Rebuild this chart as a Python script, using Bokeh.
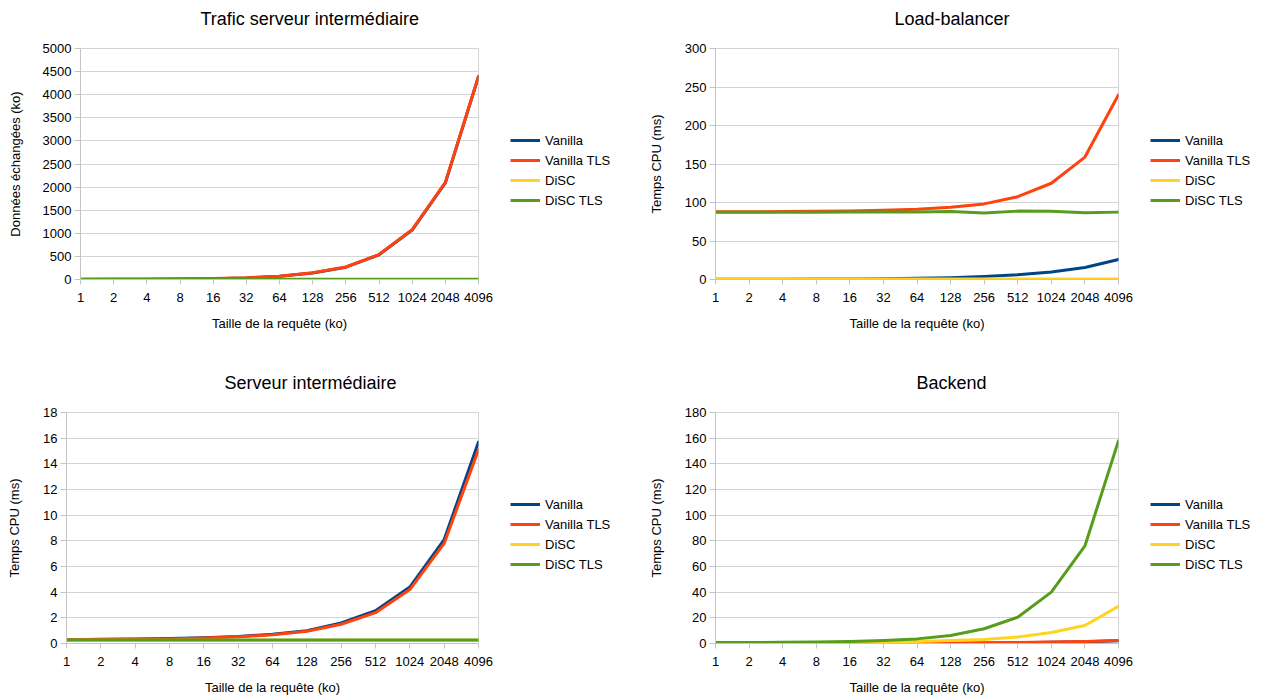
from bokeh.plotting import figure
from bokeh.layouts import column, row
from bokeh.models import Range1d, FixedTicker, Legend, LegendItem, Title
from bokeh.embed import file_html
from bokeh.resources import INLINE

# ---- data ----
sizes = ["1", "2", "4", "8", "16", "32", "64", "128", "256", "512", "1024", "2048", "4096"]
series = ["Vanilla", "Vanilla TLS", "DiSC", "DiSC TLS"]
colors = ["#004586", "#ff420e", "#ffd320", "#579d1c"]

# Trafic serveur intermédiaire (ko)
traffic_vanilla = [2, 3, 5, 9, 18, 35, 70, 142, 266, 535, 1070, 2090, 4390]
traffic_vanilla_tls = [3, 4, 6, 10, 19, 37, 72, 145, 270, 540, 1080, 2100, 4400]
traffic_disc = [1, 1, 1, 1, 1, 1, 1, 1, 1, 1, 1, 1, 1]
traffic_disc_tls = [4, 4, 4, 4, 4, 4, 4, 4, 4, 4, 4, 4, 4]
traffic_yticks = [0, 500, 1000, 1500, 2000, 2500, 3000, 3500, 4000, 4500, 5000]

# Load-balancer (ms)
lb_vanilla = [0.3, 0.3, 0.4, 0.5, 0.7, 1.0, 1.5, 2.2, 3.8, 6.3, 9.8, 15.5, 26]
lb_vanilla_tls = [88, 88, 88.2, 88.5, 89, 89.8, 91.2, 93.8, 98.2, 107.5, 125, 159, 240]
lb_disc = [0.5, 0.5, 0.5, 0.5, 0.5, 0.5, 0.5, 0.5, 0.5, 0.5, 0.5, 0.5, 0.5]
lb_disc_tls = [87.5, 87.5, 87.5, 87.5, 87.6, 87.8, 87.8, 88.4, 86.5, 88.8, 88.6, 86.6, 87.5]
lb_yticks = [0, 50, 100, 150, 200, 250, 300]

# Serveur intermédiaire (ms)
srv_vanilla = [0.30, 0.33, 0.35, 0.38, 0.45, 0.55, 0.72, 1.0, 1.6, 2.55, 4.4, 8.1, 15.7]
srv_vanilla_tls = [0.29, 0.32, 0.34, 0.36, 0.43, 0.52, 0.68, 0.95, 1.5, 2.4, 4.2, 7.8, 15.1]
srv_disc = [0.26, 0.26, 0.26, 0.26, 0.26, 0.26, 0.26, 0.26, 0.26, 0.26, 0.26, 0.26, 0.26]
srv_disc_tls = [0.27, 0.27, 0.27, 0.27, 0.27, 0.27, 0.27, 0.27, 0.27, 0.27, 0.27, 0.27, 0.27]
srv_yticks = [0, 2, 4, 6, 8, 10, 12, 14, 16, 18]

# Backend (ms)
be_vanilla = [0.05, 0.05, 0.05, 0.05, 0.1, 0.1, 0.15, 0.2, 0.35, 0.55, 0.9, 1.4, 2.1]
be_vanilla_tls = [0.1, 0.1, 0.1, 0.1, 0.15, 0.2, 0.25, 0.3, 0.45, 0.7, 1.1, 1.6, 2.4]
be_disc = [0.3, 0.3, 0.35, 0.4, 0.6, 1.0, 1.6, 2.3, 3.1, 5.0, 8.5, 14, 29]
be_disc_tls = [0.8, 0.8, 0.9, 1.2, 1.5, 2.3, 3.6, 6.2, 11.5, 20.5, 40, 76, 158]
be_yticks = [0, 20, 40, 60, 80, 100, 120, 140, 160, 180]

XTITLE = "Taille de la requête (ko)"
FONT = "Liberation Sans"
GRID = "#d4d4d4"
AXIS = "#c4c4c4"


def make_chart(title, ylabel, yticks, data, width, height, left_b, right_b, top_b, bottom_b,
               title_offset, ylab_standoff, xlab_standoff):
    ymax = yticks[-1]
    xs = list(range(len(sizes)))
    xmax = xs[-1]
    p = figure(width=width, height=height,
               min_border_left=left_b, min_border_right=right_b,
               min_border_top=top_b, min_border_bottom=bottom_b,
               x_range=Range1d(0, xmax), y_range=Range1d(0, ymax),
               output_backend="svg", toolbar_location=None, tools="")
    p.background_fill_color = "white"
    p.border_fill_color = "white"
    p.outline_line_color = GRID
    p.xgrid.grid_line_color = None
    p.ygrid.grid_line_color = GRID
    p.ygrid.grid_line_width = 1

    for col, vals in zip(colors, data):
        p.line(xs, vals, line_color=col, line_width=3, line_join="round", line_cap="round")

    # x axis
    xa = p.xaxis[0]
    xa.ticker = FixedTicker(ticks=xs)
    xa.major_label_overrides = {i: s for i, s in zip(xs, sizes)}
    xa.minor_tick_line_color = None
    xa.major_tick_in = 0
    xa.major_tick_out = 5
    xa.major_label_standoff = 8
    xa.axis_line_color = AXIS
    xa.major_tick_line_color = AXIS
    xa.major_label_text_font = FONT
    xa.major_label_text_font_size = "13px"
    xa.major_label_text_color = "#000000"
    xa.axis_label = XTITLE
    xa.axis_label_text_font = FONT
    xa.axis_label_text_font_size = "13px"
    xa.axis_label_text_font_style = "normal"
    xa.axis_label_text_color = "#000000"
    xa.axis_label_standoff = xlab_standoff

    # y axis
    ya = p.yaxis[0]
    ya.ticker = FixedTicker(ticks=yticks)
    ya.minor_tick_line_color = None
    ya.major_tick_in = 0
    ya.major_tick_out = 6
    ya.major_label_standoff = 3
    ya.axis_line_color = AXIS
    ya.major_tick_line_color = AXIS
    ya.major_label_text_font = FONT
    ya.major_label_text_font_size = "13px"
    ya.major_label_text_color = "#000000"
    ya.axis_label = ylabel
    ya.axis_label_text_font = FONT
    ya.axis_label_text_font_size = "13px"
    ya.axis_label_text_font_style = "normal"
    ya.axis_label_text_color = "#000000"
    ya.axis_label_standoff = ylab_standoff

    # chart title: a small spacer next to the frame, then the title itself
    p.title.text = ""
    spacer = Title(text=" ", text_font=FONT, text_font_size="10px", standoff=0)
    p.add_layout(spacer, "above")
    t = Title(text=title, align="left", offset=title_offset, vertical_align="middle",
              standoff=12, text_font=FONT, text_font_size="18px",
              text_font_style="normal", text_color="#000000")
    p.add_layout(t, "above")
    return p


def make_legend(width, height, loc, data):
    # side figure holding only the legend; its lines use the same series but lie
    # outside its (empty) view, so that only the legend samples are visible
    xs = list(range(len(sizes)))
    lf = figure(width=width, height=height, min_border=0,
                x_range=Range1d(-2, -1), y_range=Range1d(-2, -1),
                x_axis_location=None, y_axis_location=None,
                output_backend="svg", toolbar_location=None, tools="")
    lf.xgrid.grid_line_color = None
    lf.ygrid.grid_line_color = None
    lf.outline_line_color = None
    lf.background_fill_color = "white"
    lf.border_fill_color = "white"
    items = []
    for name, col, vals in zip(series, colors, data):
        r = lf.line(xs, vals, line_color=col, line_width=3)
        items.append(LegendItem(label=name, renderers=[r]))
    legend = Legend(items=items, location=loc, margin=0, padding=0, spacing=0,
                    label_height=20, glyph_height=20, glyph_width=30, label_standoff=5,
                    label_text_font=FONT, label_text_font_size="13px", label_text_color="#000000",
                    border_line_color=None, background_fill_alpha=0)
    lf.add_layout(legend)
    return lf


d1 = [traffic_vanilla, traffic_vanilla_tls, traffic_disc, traffic_disc_tls]
d2 = [lb_vanilla, lb_vanilla_tls, lb_disc, lb_disc_tls]
d3 = [srv_vanilla, srv_vanilla_tls, srv_disc, srv_disc_tls]
d4 = [be_vanilla, be_vanilla_tls, be_disc, be_disc_tls]

p1 = make_chart("Trafic serveur intermédiaire", "Données échangées (ko)", traffic_yticks, d1,
                width=498, height=350, left_b=80, right_b=20, top_b=48, bottom_b=71,
                title_offset=120, ylab_standoff=17, xlab_standoff=11)
l1 = make_legend(142, 350, (12, 69), d1)
p2 = make_chart("Load-balancer", "Temps CPU (ms)", lb_yticks, d2,
                width=498, height=350, left_b=75, right_b=20, top_b=48, bottom_b=71,
                title_offset=179, ylab_standoff=18, xlab_standoff=11)
l2 = make_legend(130, 350, (12, 69), d2)
p3 = make_chart("Serveur intermédiaire", "Temps CPU (ms)", srv_yticks, d3,
                width=498, height=347, left_b=66, right_b=20, top_b=62, bottom_b=54,
                title_offset=158, ylab_standoff=18, xlab_standoff=11)
l3 = make_legend(142, 347, (12, 69), d3)
p4 = make_chart("Backend", "Temps CPU (ms)", be_yticks, d4,
                width=498, height=347, left_b=75, right_b=20, top_b=62, bottom_b=54,
                title_offset=201, ylab_standoff=18, xlab_standoff=11)
l4 = make_legend(130, 347, (12, 69), d4)

layout = column(row(p1, l1, p2, l2, spacing=0), row(p3, l3, p4, l4, spacing=0), spacing=0)
open("out.html", "w").write(file_html(layout, INLINE))
